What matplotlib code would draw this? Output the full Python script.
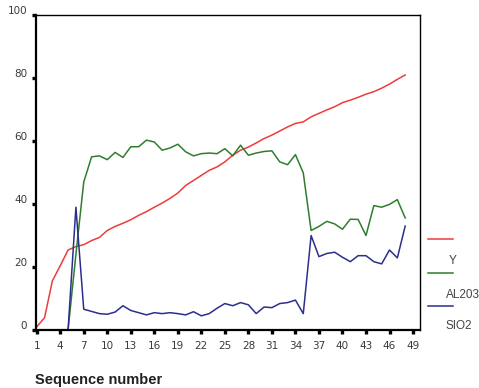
import numpy as np
import matplotlib
matplotlib.use('Agg')
import matplotlib.pyplot as plt
from matplotlib.lines import Line2D
from matplotlib.transforms import ScaledTranslation

nan = np.nan

seq = list(range(1, 49))

red_vals = [1, 3.9, 15.6, 20.4, 25.4, 26.5, 27.1, 28.4, 29.4, 31.6,
            32.9, 33.9, 35.0, 36.4, 37.6, 39.0, 40.3, 41.8, 43.5, 45.9,
            47.5, 49.1, 50.7, 51.8, 53.4, 55.5, 57.1, 58.1, 59.4, 60.8,
            61.9, 63.2, 64.5, 65.6, 66.1, 67.7, 68.8, 69.9, 70.9, 72.2,
            73.0, 73.9, 74.9, 75.7, 76.8, 78.1, 79.6, 81.0]

green_vals = [nan, nan, nan, nan, 0, 24, 47, 55.0, 55.3, 54.1,
              56.4, 54.8, 58.2, 58.2, 60.3, 59.7, 57.1, 57.8, 59.0, 56.6,
              55.3, 56.0, 56.2, 56.0, 57.6, 55.3, 58.7, 55.5, 56.2, 56.7,
              56.9, 53.4, 52.5, 55.7, 49.9, 31.6, 32.9, 34.5, 33.7, 32.0,
              35.2, 35.1, 30.0, 39.5, 39.0, 39.9, 41.4, 35.6]

blue_vals = [nan, nan, nan, nan, 0, 39.0, 6.6, 5.9, 5.2, 5.0,
             5.7, 7.7, 6.2, 5.5, 4.8, 5.5, 5.2, 5.5, 5.2, 4.8,
             5.8, 4.5, 5.2, 6.9, 8.4, 7.7, 8.7, 8.0, 5.2, 7.3,
             7.1, 8.4, 8.7, 9.5, 5.2, 30.0, 23.3, 24.3, 24.7, 23.1,
             21.7, 23.6, 23.6, 21.7, 21.0, 25.4, 22.9, 33.0]

legend_labels = ['Y', 'AL203', 'SIO2']
colors = ['#ee3b3b', '#2f7d2f', '#2b2f8c']

fig = plt.figure(figsize=(4.79, 3.88), dpi=100)
ax = fig.add_axes([0.0745, 0.1495, 0.8025, 0.8115])

ax.plot(seq, red_vals, color=colors[0], lw=1.1)
ax.plot(seq, green_vals, color=colors[1], lw=1.1)
ax.plot(seq, blue_vals, color=colors[2], lw=1.1)

ax.set_xlim(0.87, 49.9)
ax.set_ylim(0, 100)
ax.set_xticks(range(1, 50, 3))
ax.set_yticks(range(0, 101, 20))

for side in ['left', 'bottom']:
    ax.spines[side].set_linewidth(1.6)
for side in ['top', 'right']:
    ax.spines[side].set_linewidth(1.0)

ax.tick_params(axis='both', direction='out', length=3, width=2.4,
               color='black', labelsize=7.5, labelcolor='#3a3a3a')
ax.tick_params(axis='x', pad=5)
ax.tick_params(axis='y', pad=3)

# the y labels sit a little above their tick marks in the original
off = ScaledTranslation(0, 5 / 100, fig.dpi_scale_trans)
for lab in ax.get_yticklabels():
    lab.set_transform(lab.get_transform() + off)

fig.text(35 / 479, 1 - 380 / 388, 'Sequence number', fontsize=10.5,
         family='Liberation Sans', fontweight='bold', color='#222222',
         ha='left', va='center')

# legend drawn by hand: line, then label underneath
line_y = [239, 273, 306]
text_y = [261, 295, 326]
for c, ly in zip(colors, line_y):
    fig.add_artist(Line2D([428 / 479, 453 / 479], [1 - ly / 388, 1 - ly / 388],
                          color=c, lw=1.1))
fig.text(453 / 479, 1 - text_y[0] / 388, legend_labels[0], fontsize=8.5,
         family='Liberation Sans', color='#444444', ha='center', va='center')
for lab, ty in zip(legend_labels[1:], text_y[1:]):
    fig.text(446 / 479, 1 - ty / 388, lab, fontsize=8.5,
             family='Liberation Sans', color='#444444', ha='left', va='center')

fig.savefig('out.png', dpi=100)
